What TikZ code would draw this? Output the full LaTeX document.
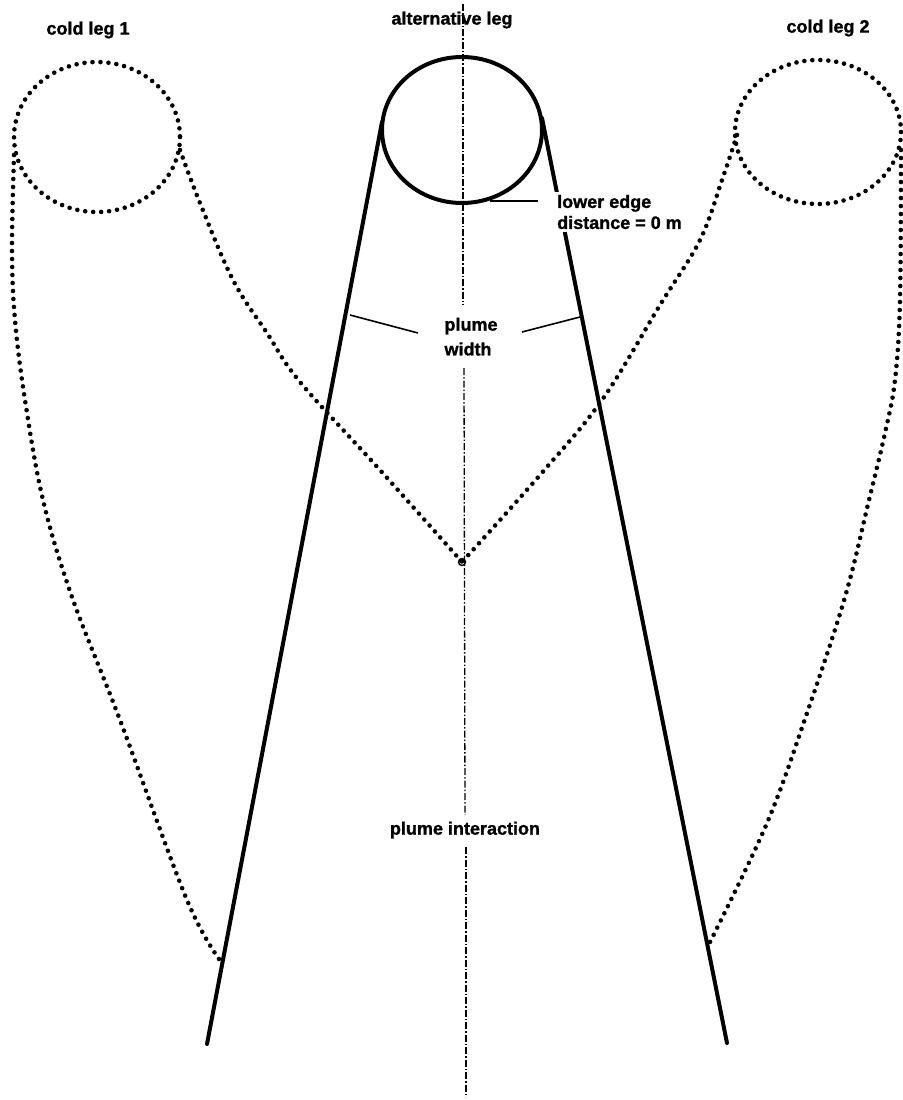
\documentclass[tikz,border=0pt]{standalone}
\usepackage{fontspec}
\setmainfont{Liberation Sans}[BoldFeatures={FakeBold=1.2}]
\begin{document}
\begin{tikzpicture}[x=1pt,y=-1pt,
  dotline/.style={line width=4.6pt, line cap=round, dash pattern=on 0pt off 8pt},
  solidline/.style={line width=4pt, line cap=round},
  axisline/.style={line width=1.3pt, dash pattern=on 7pt off 2pt on 1.5pt off 2pt},
  leader/.style={line width=1.6pt},
  lbl/.style={font=\bfseries\fontsize{18}{21}\selectfont, inner sep=0pt}]
\useasboundingbox (0,0) rectangle (902,1100);

% centre axis
\coordinate (axTop) at (463,4);
\coordinate (axA) at (463,305);
\coordinate (axB) at (464,368);
\coordinate (axC) at (465,815);
\coordinate (axD) at (466,847);
\coordinate (axBot) at (466,1097);
\draw[axisline] (axTop) -- (axA);
\draw[axisline] (axB) -- (axC);
\draw[axisline] (axD) -- (axBot);

% circles
\draw[dotline] (97,137) ellipse [x radius=83, y radius=75];
\draw[dotline] (818,132) ellipse [x radius=83, y radius=72];
\draw[solidline] (462,130) ellipse [x radius=80, y radius=73];

% solid plume edges
\coordinate (sL1) at (382,122);
\coordinate (sL2) at (207,1044);
\coordinate (sR1) at (542,118);
\coordinate (sR2) at (727,1043);
\draw[solidline] (sL1) -- (sL2);
\draw[solidline] (sR1) -- (sR2);

% dotted plume edges
\coordinate (meet) at (462,562);
\draw[dotline] plot[smooth, tension=0.6] coordinates {(180,150) (200,203) (233,280) (267,333) (300,382) (380,470) (462,562)};
\draw[dotline] plot[smooth, tension=0.6] coordinates {(737,135) (722,180) (700,240) (660,305) (602,400) (540,475) (462,562)};
\draw[dotline] plot[smooth, tension=0.6] coordinates {(14,155) (12,250) (15,320) (25,400) (43,500) (72,597) (120,720) (187,900) (222,963)};
\draw[dotline] plot[smooth, tension=0.6] coordinates {(901,150) (900,300) (895,380) (885,433) (869,500) (845,597) (807,713) (767,823) (710,942)};
\draw[line width=1.4pt] (meet) circle [radius=3.5];

% labels
\node[lbl] (cl1) at (88,30) {cold leg 1};
\node[lbl] (alt) at (452,20) {alternative leg};
\node[lbl] (cl2) at (828,28) {cold leg 2};
\node[lbl, anchor=west, align=left, fill=white, inner sep=3pt] (low) at (554,212) {lower edge\\distance = 0 m};
\node[lbl] (pw1) at (471,326) {plume};
\node[lbl] (pw2) at (468,349) {width};
\node[lbl] (pint) at (465,830) {plume interaction};

% leaders
\coordinate (lowA) at (490,201);
\coordinate (lowB) at (538,201);
\draw[leader] (lowA) -- (lowB);
\coordinate (pwLa) at (350,315);
\coordinate (pwLb) at (418,333);
\coordinate (pwRa) at (522,332);
\coordinate (pwRb) at (580,317);
\draw[leader] (pwLa) -- (pwLb);
\draw[leader] (pwRa) -- (pwRb);
\end{tikzpicture}
\end{document}
